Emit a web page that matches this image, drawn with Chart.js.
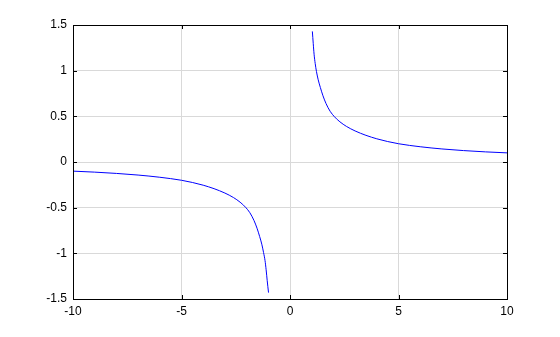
<!DOCTYPE html>
<html>
<head>
<meta charset="utf-8">
<script src="https://cdn.jsdelivr.net/npm/chart.js@4/dist/chart.umd.min.js"></script>
<style>
html,body{margin:0;padding:0;background:#fff;}
#wrap{width:560px;height:337px;position:relative;}
</style>
</head>
<body>
<div id="wrap"><canvas id="c" width="560" height="337"></canvas></div>
<script>
// Values
const leftX  = [-10, -9, -8, -7, -6, -5, -4.5, -4.0, -3.5, -3.0, -2.6, -2.3, -2.05, -1.85, -1.66, -1.52, -1.40, -1.30, -1.22, -1.15, -1.10, -1.05, -0.99];
const leftY  = [-0.10, -0.111, -0.125, -0.143, -0.167, -0.20, -0.224, -0.254, -0.292, -0.34, -0.39, -0.44, -0.495, -0.555, -0.64, -0.725, -0.815, -0.90, -0.99, -1.08, -1.18, -1.30, -1.43];
const rightX = [1.03, 1.07, 1.11, 1.16, 1.22, 1.30, 1.40, 1.52, 1.66, 1.85, 2.05, 2.3, 2.6, 3.0, 3.5, 4.0, 4.5, 5, 6, 7, 8, 9, 10];
const rightY = [1.43, 1.30, 1.18, 1.08, 0.99, 0.90, 0.815, 0.725, 0.64, 0.555, 0.495, 0.44, 0.39, 0.34, 0.292, 0.254, 0.224, 0.20, 0.167, 0.143, 0.125, 0.111, 0.10];
const xTicks = [-10, -5, 0, 5, 10];
const yTicks = [-1.5, -1, -0.5, 0, 0.5, 1, 1.5];

const toPts = (xs, ys) => xs.map((x, i) => ({x: x, y: ys[i]}));

const frame = {
  id: 'frame',
  afterDatasetsDraw(chart) {
    const {ctx, chartArea: a, scales} = chart;
    ctx.save();
    ctx.strokeStyle = '#000';
    ctx.lineWidth = 1;
    ctx.beginPath();
    xTicks.forEach(v => {
      const p = Math.round(scales.x.getPixelForValue(v)) + 0.5;
      ctx.moveTo(p, a.bottom); ctx.lineTo(p, a.bottom - 4);
      ctx.moveTo(p, a.top); ctx.lineTo(p, a.top + 4);
    });
    yTicks.forEach(v => {
      const p = Math.round(scales.y.getPixelForValue(v)) + 0.5;
      ctx.moveTo(a.left, p); ctx.lineTo(a.left + 4, p);
      ctx.moveTo(a.right, p); ctx.lineTo(a.right - 4, p);
    });
    ctx.stroke();
    ctx.strokeRect(Math.round(a.left) + 0.5, Math.round(a.top) + 0.5, Math.round(a.right - a.left), Math.round(a.bottom - a.top));
    ctx.restore();
  }
};

new Chart(document.getElementById('c'), {
  type: 'scatter',
  data: {
    datasets: [
      {data: toPts(leftX, leftY), showLine: true, borderColor: '#0000ff', borderWidth: 1, pointRadius: 0, cubicInterpolationMode: 'monotone', fill: false},
      {data: toPts(rightX, rightY), showLine: true, borderColor: '#0000ff', borderWidth: 1, pointRadius: 0, cubicInterpolationMode: 'monotone', fill: false}
    ]
  },
  options: {
    responsive: false,
    animation: false,
    devicePixelRatio: 1,
    layout: {padding: {top: 25, right: 53, left: 0, bottom: 0}},
    plugins: {legend: {display: false}, tooltip: {enabled: false}},
    scales: {
      x: {
        type: 'linear', min: -10, max: 10,
        afterBuildTicks: s => { s.ticks = xTicks.map(v => ({value: v})); },
        afterFit: s => { s.height = 38; },
        grid: {color: '#d9d9d9', lineWidth: 1, drawTicks: false},
        border: {display: false},
        ticks: {color: '#000', font: {family: 'Liberation Sans', size: 12}, padding: 5, maxRotation: 0,
                callback: v => String(v)}
      },
      y: {
        type: 'linear', min: -1.5, max: 1.5,
        afterBuildTicks: s => { s.ticks = yTicks.map(v => ({value: v})); },
        afterFit: s => { s.width = 73; },
        grid: {color: '#d9d9d9', lineWidth: 1, drawTicks: false},
        border: {display: false},
        ticks: {color: '#000', font: {family: 'Liberation Sans', size: 12}, padding: 6,
                callback: v => String(v)}
      }
    }
  },
  plugins: [frame]
});
</script>
</body>
</html>
